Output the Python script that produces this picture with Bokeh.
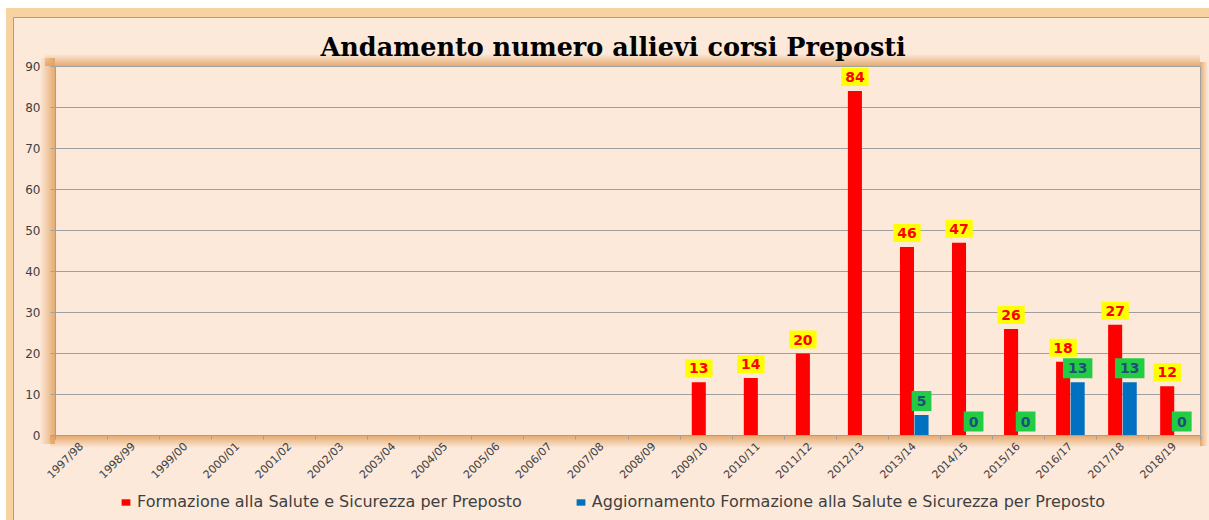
from bokeh.plotting import figure
from bokeh.layouts import column
from bokeh.models import Range1d, FixedTicker, Label, Legend, LegendItem
from bokeh.embed import file_html
from bokeh.resources import INLINE

# ---- data ----
years = ["1997/98", "1998/99", "1999/00", "2000/01", "2001/02", "2002/03", "2003/04",
         "2004/05", "2005/06", "2006/07", "2007/08", "2008/09", "2009/10", "2010/11",
         "2011/12", "2012/13", "2013/14", "2014/15", "2015/16", "2016/17", "2017/18",
         "2018/19"]
formazione = [None] * 12 + [13, 14, 20, 84, 46, 47, 26, 18, 27, 12]
aggiornamento = [None] * 16 + [5, 0, 0, 13, 13, 0]
y_ticks = [0, 10, 20, 30, 40, 50, 60, 70, 80, 90]
title_text = "Andamento numero allievi corsi Preposti"
label_formazione = "Formazione alla Salute e Sicurezza per Preposto"
label_aggiornamento = "Aggiornamento Formazione alla Salute e Sicurezza per Preposto"

PEACH = "#FCE9DA"
GRAY = "#A0A0A0"
RED = "#FF0000"
BLUE = "#0070C0"
SH0 = "rgba(226,160,94,0)"
SH1 = "rgba(226,160,94,0.85)"

W = 1209
H_MAIN, H_LEG = 488, 32

p = figure(width=W, height=H_MAIN, output_backend="svg", toolbar_location=None,
           x_range=Range1d(0, len(years)), y_range=Range1d(0, 90),
           min_border_left=55, min_border_right=9, min_border_top=66, min_border_bottom=52)
p.background_fill_color = PEACH
p.border_fill_alpha = 0
p.outline_line_color = GRAY
p.outline_line_width = 1

# ---- bars ----
off, bw = 0.14, 0.27
rx = [i + 0.5 - off for i, v in enumerate(formazione) if v is not None]
rv = [v for v in formazione if v is not None]
bx = [i + 0.5 + off for i, v in enumerate(aggiornamento) if v is not None]
bv = [v for v in aggiornamento if v is not None]
p.vbar(x=rx, top=rv, width=bw, fill_color=RED, line_color=None)
p.vbar(x=bx, top=bv, width=bw, fill_color=BLUE, line_color=None)

# ---- value labels ----
for x, v in zip(rx, rv):
    p.add_layout(Label(x=x, y=v, y_offset=5, text=str(v), text_align="center",
                       text_baseline="bottom", text_color=RED, text_font="DejaVu Sans",
                       text_font_style="bold", text_font_size="14px",
                       background_fill_color="#FFFF00", padding=4))
for x, v in zip(bx, bv):
    p.add_layout(Label(x=x, y=v, y_offset=4, text=str(v), text_align="center",
                       text_baseline="bottom", text_color="#1F4E79", text_font="DejaVu Sans",
                       text_font_style="bold", text_font_size="14px",
                       background_fill_color="#22CC44", padding=5))

# ---- axes ----
p.xgrid.grid_line_color = None
p.ygrid.grid_line_color = GRAY
p.ygrid.grid_line_width = 1
p.yaxis.ticker = FixedTicker(ticks=y_ticks)
p.yaxis.axis_line_color = GRAY
p.yaxis.major_tick_line_color = GRAY
p.yaxis.major_tick_out = 5
p.yaxis.major_tick_in = 0
p.yaxis.minor_tick_line_color = None
p.yaxis.major_label_text_font = "DejaVu Sans"
p.yaxis.major_label_text_font_size = "12px"
p.yaxis.major_label_text_color = "#404040"
p.yaxis.major_label_standoff = 10

centers = [i + 0.5 for i in range(len(years))]
p.xaxis.ticker = FixedTicker(ticks=centers, minor_ticks=list(range(len(years) + 1)))
p.xaxis.major_label_overrides = {c: y for c, y in zip(centers, years)}
p.xaxis.major_label_orientation = 0.785
p.xaxis.axis_line_color = GRAY
p.xaxis.major_tick_line_color = None
p.xaxis.major_tick_out = 0
p.xaxis.major_tick_in = 0
p.xaxis.minor_tick_line_color = GRAY
p.xaxis.minor_tick_out = 4
p.xaxis.minor_tick_in = 0
p.xaxis.major_label_text_font = "DejaVu Sans"
p.xaxis.major_label_text_font_size = "11px"
p.xaxis.major_label_text_color = "#404040"
p.xaxis.major_label_standoff = 5

# ---- title ----
p.title.text = title_text
p.title.align = "left"
p.title.offset = 265
p.title.standoff = 10
p.title.text_font = "DejaVu Serif"
p.title.text_font_style = "bold"
p.title.text_font_size = "25.5px"
p.title.text_color = "#000000"

# ---- legend strip (separate figure below the chart) ----
q = figure(width=W, height=H_LEG, output_backend="svg", toolbar_location=None,
           x_axis_location=None, y_axis_location=None,
           x_range=Range1d(0, 1), y_range=Range1d(0, 1),
           min_border=0)
q.background_fill_alpha = 0
q.border_fill_alpha = 0
q.outline_line_color = None
q.xgrid.grid_line_color = None
q.ygrid.grid_line_color = None
# legend swatches only: these bars lie below the strip's visible range
g1 = q.vbar(x=[0.5], bottom=[-2], top=[-1], width=0.1, fill_color=RED, line_color=None)
g2 = q.vbar(x=[0.5], bottom=[-2], top=[-1], width=0.1, fill_color=BLUE, line_color=None)
legend = Legend(items=[LegendItem(label=label_formazione, renderers=[g1]),
                       LegendItem(label=label_aggiornamento, renderers=[g2])],
                location=(65, 9), orientation="horizontal", spacing=53,
                glyph_width=11, glyph_height=8, label_standoff=6,
                label_text_font="DejaVu Sans", label_text_font_size="16px",
                label_text_color="#404040", background_fill_alpha=0,
                border_line_color=None, padding=0, margin=0)
q.add_layout(legend)

layout = column(p, q, spacing=0)
layout.styles = {
    "background-color": PEACH,
    "box-shadow": "inset 6px 8px 0 0 #FFFFFF, inset 13px 17px 0 0 #F8D3A2, inset 14px 18px 0 0 #A0A0A0",
    "background-image": ", ".join([
        f"linear-gradient(to right, {SH0}, {SH1})",
        f"linear-gradient(to bottom, {SH0}, {SH1})",
        f"linear-gradient(to bottom, {SH1}, {SH0})",
        f"linear-gradient(to right, {SH1}, {SH0})",
    ]),
    "background-position": "40px 58px, 45px 54px, 50px 436px, 1200px 62px",
    "background-size": "15px 386px, 1155px 12px, 1152px 12px, 8px 384px",
    "background-repeat": "no-repeat",
}

open("out.html", "w").write(file_html(layout, INLINE))
